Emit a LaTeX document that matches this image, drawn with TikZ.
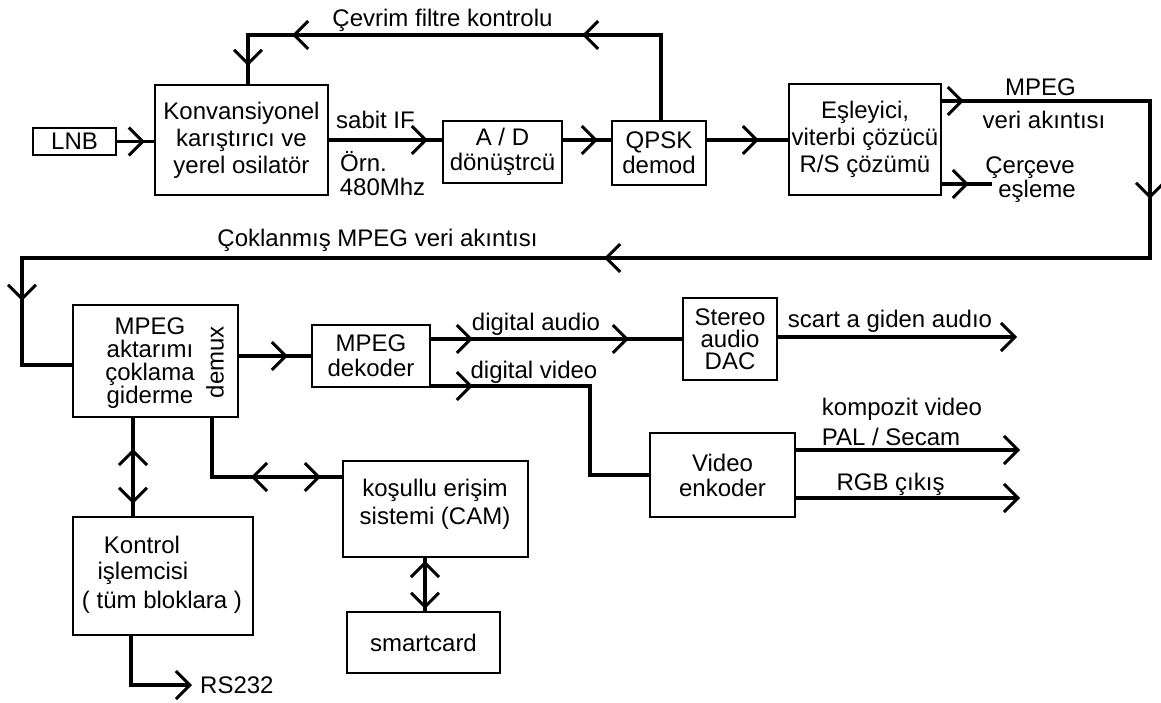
\documentclass[tikz,border=0pt]{standalone}
\usepackage{fontspec}
\setmainfont{Liberation Sans}
\usetikzlibrary{arrows.meta,decorations.markings}
\tikzset{
  box/.style={draw, line width=1.8pt, inner sep=0pt, align=center},
  conn/.style={line width=3.6pt},
  bb/.tip={Straight Barb[length=14pt,width=28pt,line width=3pt]},
  arr at/.style={postaction={decorate,decoration={markings,mark=at position #1 with {\arrow{bb}}}}},
  rarr at/.style={postaction={decorate,decoration={markings,mark=at position #1 with {\arrowreversed{bb}}}}},
  lbl/.style={inner sep=0pt, text height=17pt, text depth=0pt},
}
\begin{document}
\begin{tikzpicture}[x=1pt,y=-1pt,font=\fontsize{24}{25}\selectfont]
\useasboundingbox (0,0) rectangle (1161,702);

% boxes
\node[box, minimum width=83pt, minimum height=27pt] (lnb) at (74.5,141.5) {LNB};
\node[box, minimum width=173pt, minimum height=110pt, font=\fontsize{24}{27}\selectfont] (conv) at (241.5,140) {Konvansiyonel\\karıştırıcı ve\\yerel osilatör};
\node[box, minimum width=119pt, minimum height=62pt] (ad) at (502.5,152) {A / D\\dönüştrcü};
\node[box, minimum width=94pt, minimum height=64pt] (qpsk) at (659,153) {QPSK\\demod};
\node[box, minimum width=152pt, minimum height=111pt, font=\fontsize{24}{27}\selectfont] (esl) at (865,139.5) {Eşleyici,\\viterbi çözücü\\R/S çözümü};
\node[box, minimum width=165pt, minimum height=112pt] (demux) at (155.5,361) {};
\node[align=center, inner sep=0pt, font=\fontsize{24}{23}\selectfont] at (150,363) {MPEG\\aktarımı\\çoklama\\giderme};
\node[inner sep=0pt, rotate=90] at (215,362) {demux};
\node[box, minimum width=118pt, minimum height=62pt] (dek) at (371,356) {MPEG\\dekoder};
\node[box, minimum width=94pt, minimum height=82pt, font=\fontsize{24}{22}\selectfont] (dac) at (730,339) {Stereo\\audio\\DAC};
\node[box, minimum width=145pt, minimum height=84pt] (venc) at (722.5,475) {Video\\enkoder};
\node[box, minimum width=185pt, minimum height=96pt] (cam) at (435.5,509) {};
\node[align=center, inner sep=0pt, font=\fontsize{24}{28}\selectfont] at (435,504) {koşullu erişim\\sistemi (CAM)};
\node[box, minimum width=153pt, minimum height=61pt] (smart) at (423.5,642.5) {smartcard};
\node[box, minimum width=180pt, minimum height=118pt] (ktrl) at (163,576) {};
\node[lbl] at (142,545) {Kontrol};
\node[lbl] at (143,571) {işlemcisi};
\node[lbl] at (162,600) {( tüm bloklara )};

% labels
\node[lbl] at (442.5,18) {Çevrim filtre kontrolu};
\node[lbl] at (375.5,119.5) {sabit IF};
\node[lbl, anchor=west] at (340,163) {Örn.};
\node[lbl] at (382.5,187) {480Mhz};
\node[lbl] at (1040.5,86.5) {MPEG};
\node[lbl] at (1044,119.5) {veri akıntısı};
\node[lbl] at (1030,165) {Çerçeve};
\node[lbl] at (1037,189) {eşleme};
\node[lbl] at (377.5,237.5) {Çoklanmış MPEG veri akıntısı};
\node[lbl] at (536,321.5) {digital audio};
\node[lbl] at (534,370) {digital video};
\node[lbl] at (890,318.5) {scart a giden audıo};
\node[lbl] at (902,406.5) {kompozit video};
\node[lbl] at (891,436.5) {PAL / Secam};
\node[lbl] at (890.5,481.5) {RGB çıkış};
\node[lbl, anchor=west] at (200,685) {RS232};

% coordinates
\coordinate (fb) at (248,35);
\coordinate (m1) at (1150,101);
\coordinate (m2) at (1150,258);
\coordinate (m3) at (22,258);
\coordinate (m4) at (22,365);
\coordinate (ce) at (992,184);
\coordinate (dv) at (590,386);
\coordinate (sc) at (1017,337);
\coordinate (ko) at (1020,450);
\coordinate (rg) at (1020,498);
\coordinate (dk) at (133,0);
\coordinate (dc) at (212,477);
\coordinate (cs) at (425,0);
\coordinate (rs) at (131,685);
\coordinate (rse) at (192,685);

% connectors
\draw[conn, arr at=28pt] (lnb.east) -- (lnb.east -| conv.west);
\draw[conn, arr at=99pt] (conv.east) -- (conv.east -| ad.west);
\draw[conn, arr at=35pt] (conv.east -| ad.east) -- (conv.east -| qpsk.west);
\draw[conn, arr at=52pt] (conv.east -| qpsk.east) -- (conv.east -| esl.west);
\draw[conn, arr at=164pt, arr at=454pt, arr at=529pt] ([xshift=2pt]qpsk.north) |- (fb) -- (fb |- conv.north);
\draw[conn, arr at=22pt, arr at=306pt, arr at=911pt, arr at=1536pt] (esl.east |- m1) -- (m1) -- (m2) -- (m3) -- (m4) -- (m4 -| demux.west);
\draw[conn, arr at=27pt] (esl.east |- ce) -- (ce);
\draw[conn, arr at=49pt] (demux.east |- dek.west) -- (dek.west);
\draw[conn, arr at=42pt, arr at=198pt] (dek.east |- dac.west) -- (dac.west);
\draw[conn, arr at=42pt] (dek.east |- dv) -- (dv) |- (venc.west);
\draw[conn, -{bb}] (dac.east |- sc) -- (sc);
\draw[conn, -{bb}] (venc.east |- ko) -- (ko);
\draw[conn, -{bb}] (venc.east |- rg) -- (rg);
\draw[conn, rarr at=31pt, arr at=86pt] (demux.south -| dk) -- (ktrl.north -| dk);
\draw[conn, rarr at=98pt, arr at=168pt] (demux.south -| dc) -- (dc) -- (dc -| cam.west);
\draw[conn, rarr at=3pt, arr at=51pt] (cam.south -| cs) -- (smart.north -| cs);
\draw[conn, -{bb}] (ktrl.south -| rs) -- (rs) -- (rse);
\end{tikzpicture}
\end{document}
